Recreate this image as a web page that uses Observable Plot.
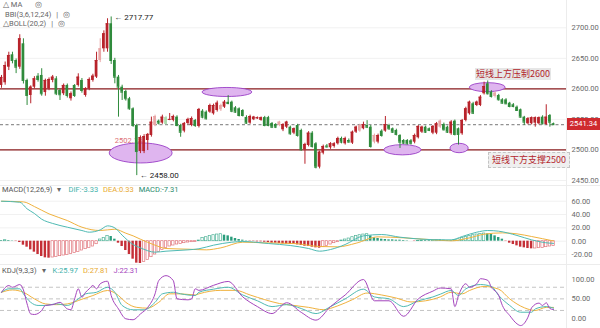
<!DOCTYPE html>
<html><head><meta charset="utf-8">
<script src="https://cdn.jsdelivr.net/npm/d3@7"></script>
<script src="https://cdn.jsdelivr.net/npm/@observablehq/plot@0.6"></script>
<style>
html,body{margin:0;padding:0;background:#fff;}
#wrap{position:relative;width:600px;height:328px;overflow:hidden;font-family:Roboto,"Noto Sans",sans-serif;}
.panel{position:absolute;left:0;}
.lg{position:absolute;font-size:7.5px;color:#666;white-space:nowrap;line-height:10px;}
.lg b{font-weight:normal;margin-right:5px;}
.note{position:absolute;font-family:"Noto Sans CJK SC",sans-serif;font-size:9px;line-height:12px;color:#b3262d;background:#e6e6e6;padding:0 1px;white-space:nowrap;}
.note2{border:1px dashed #c4c4c4;padding:1px 3px;background:#efefef;}
.tag{position:absolute;left:567px;width:33px;height:12px;line-height:12px;background:#cf2a2f;color:#fff;font-size:7.5px;text-align:center;}
.sep{position:absolute;left:0;width:600px;height:1px;background:#ececec;}
.vax{position:absolute;left:566px;top:0;width:1px;height:328px;background:#ececec;}
</style></head><body><div id="wrap"></div><script>
// ---------- candles (index 0..151) ----------
const openP = [2605.6,2610,2635.5,2655.8,2646.5,2635.5,2673.8,2613.8,2589.2,2602.8,
2620.8,2622,2594,2600,2613.8,2616.5,2597.4,2592,2605.6,2583.8,
2605.6,2605.6,2613.8,2589.2,2600,2613.8,2619.2,2646.5,2665.6,2665.6,
2706.6,2646.5,2619.2,2602.8,2595.7,2583.8,2567.4,2540.1,2497.4,2497.4,
2515.5,2523.7,2540,2547.2,2544,2553,2549,2548.3,2553.7,2540,
2530.8,2543.4,2540,2548.3,2538.5,2563.5,2561.9,2561.9,2559.2,2564.6,
2565.8,2570,2578,2578.2,2569,2567.4,2564.6,2553.2,2543.9,2549.4,
2551,2548.3,2553,2553,2543.4,2541.7,2540,2533,2537.3,2537.3,
2527.5,2540,2531.9,2500.3,2507.3,2527.5,2510.1,2471.8,2494.7,2506.5,
2503.6,2505.7,2510.1,2518.8,2510.1,2515.5,2511.1,2529.1,2530.8,2534.7,
2540,2537.3,2512.8,2512.8,2530.8,2530.8,2540,2534.7,2531.9,2523.7,
2515.5,2515.5,2515,2512.8,2520,2529.1,2537.3,2534.7,2527.5,2527.5,
2537.3,2541.7,2537.3,2526.5,2547.1,2534.7,2526.5,2548.3,2559.2,2575.6,
2572.8,2572.8,2592,2608.3,2594.6,2587.6,2589.2,2582.2,2582,2576.6,
2574,2570,2565.8,2553.7,2542.9,2542.9,2543.9,2542.9,2553.7,2541.7,
2556.4,2543];
const highP = [2622,2644,2660,2660,2649,2688.6,2682,2616,2605,2620,
2625,2633,2616,2618,2622,2620,2600,2608,2608,2595,
2607,2624.7,2617,2602,2618,2624,2660,2682,2695,2714.8,
2717.77,2650,2622,2606,2598,2586,2569,2542,2523,2525,
2527,2553.8,2557,2549,2557,2555,2559.7,2557,2556,2542,
2545,2552,2554,2550,2568,2566,2564,2575,2575,2580,
2575,2581,2589,2580,2571,2569,2566,2556,2557,2555,
2554,2554,2555,2555,2545,2543,2547,2543,2547,2539,
2536,2542,2534,2511,2530,2530,2512,2498,2508,2509,
2512,2512,2521,2521,2521,2518,2531,2539,2542,2545.5,
2548,2540,2526,2526,2533,2554.8,2542,2536,2534,2525,
2517,2517,2517,2526,2540,2539,2539,2536,2540,2545,
2549,2544,2539,2548,2549,2536,2550,2570,2580,2578,
2580,2589,2611,2613,2597,2595,2591,2584,2584,2578,
2576,2572,2567,2555,2553,2554,2554,2554,2556,2574,
2558,2544];
const lowP = [2601,2606,2630,2641,2625,2632,2608,2572.8,2575.6,2600,
2611,2588,2588,2597,2610,2589,2581,2589,2585,2580,
2586,2603,2593,2586.4,2597,2611,2617,2643,2660,2660,
2640,2608.3,2553.7,2581,2580,2565,2537,2458,2494,2494,
2499,2521,2538,2541,2542,2541,2548,2546,2538,2520.8,
2528,2541,2538,2537,2536,2551,2549,2560,2557,2562,
2563,2568,2574,2561,2560,2554,2554,2542,2542,2548,
2550,2547,2538,2538,2535,2535,2538,2530,2535,2524,
2525,2521,2498,2476.6,2505,2503,2469,2469,2492,2503,
2501,2503,2508,2510,2508,2511,2509,2527,2529,2533,
2535,2503,2510,2510,2521,2529,2532,2527,2523,2502.5,
2509,2508,2508,2510,2518,2527,2527,2530,2525,2525,
2535,2531,2527,2524,2523,2508,2524,2546,2557,2558,
2571,2571,2590,2590,2585,2585,2580,2575,2574,2569,
2569,2563,2552,2540.1,2541,2541,2537.3,2541,2541,2540,
2537.3,2540];
const closeP = [2618.7,2638.3,2654.7,2646.5,2635.5,2682,2613.8,2589.2,2602.8,2616.5,
2615.4,2592,2613.8,2615.4,2619.2,2592,2590.4,2605.6,2589.2,2592,
2589.2,2619.2,2597.4,2600,2615.4,2620.8,2646.5,2665.6,2690.2,2706.6,
2646.5,2619.2,2602.8,2594.6,2583.8,2567.4,2540.1,2497.4,2520.4,2522,
2525.4,2545.5,2554.8,2544,2553.7,2543.4,2550,2554.8,2540,2529,
2543.4,2550,2551.5,2540,2566.3,2553.7,2551,2572.8,2572.8,2576.6,
2572.8,2578.2,2576,2563.5,2561.9,2556.4,2556.4,2543.9,2554.8,2553.7,
2552.7,2552.7,2540,2540,2537.3,2537.3,2545.5,2541.7,2545.5,2526.5,
2534.7,2523.7,2500.3,2509,2527.5,2505.7,2471.8,2496.4,2505.7,2505,
2510.1,2510,2518.8,2512.8,2518.8,2513,2529.1,2537.3,2540,2541.7,
2537.3,2505.7,2523.7,2523.7,2523.7,2541.7,2534.7,2529.1,2525.4,2512.8,
2511.1,2510.1,2511,2523.7,2538.5,2537.3,2529.1,2532,2538.5,2542.9,
2547.1,2533,2529.1,2545.5,2525.4,2525.4,2548.3,2567.4,2578.2,2560.2,
2578.2,2586.4,2603.9,2592,2587.6,2593,2582.2,2576.6,2575.6,2571.2,
2571.2,2564.6,2553.7,2545.5,2551,2552.7,2552.7,2552.7,2542.9,2553.7,
2545.5,2541.34];
const fadedIdx = [27,42,45,60,76,98,102,120,135];

// ---------- MACD ----------
const macdHist = [1,1.5,1,0.5,-0.5,-2,-6,-9,-13,-16.5,
-20,-23,-25,-25.5,-24.5,-23.5,-22.5,-21.5,-20.5,-19,
-17.5,-16,-14,-12,-10,-8,-4.5,2.5,5,8,
7,3,-3,-8,-14,-20,-27,-33,-33.5,-31,
-28,-24,-20,-16,-13,-10,-8,-6.5,-5,-4,
-3,-2,-1.5,-1,1,5,6,8,9,10,
10.5,9,8,6,4,2.5,1.5,0.5,-0.5,-0.5,
-1,-1,-1.5,-2,-3,-3,-3.5,-4,-4.5,-5,
-5,-5.5,-6.5,-7.5,-8,-9,-10,-10.5,-9,-7,
-5,-3,-1.5,1,2.5,4,6,8,9,10,
10.5,8,5,4,3,2.5,2,2,1.5,1.5,
1,0.5,0,-0.5,0.5,1,1,1,1.5,2,
2,1.5,1,1,2,3,5,6.5,8,9,
10,11,11.5,11,10,8,5.5,3,-0.5,-3,
-5,-7,-9,-10,-11,-11.5,-11,-10.5,-10,-9,
-8,-7.31];
const difIdx = [0,5,7,9,11,14,18,22,24,27,29,31,33,36,38,42,45,51,54,58,63,66,73,79,84,87,90,94,99,104,109,115,121,123,126,130,133,136,141,145,150,151];
const difVal = [60,58.5,48.6,41.6,33,26.6,21,16,13.5,17,23,20,9,-5,-10,-16.5,-15,-13,-11.4,-6,-1.5,-0.5,-3.5,-6.5,-11,-15,-12.5,-5,8,10,6,3,2,2,7,13.5,16,15,8.6,2,-3,-3.33];
const deaIdx = [0,6,9,13,18,22,27,31,34,36,38,42,45,51,56,60,66,72,80,87,92,97,103,110,117,123,128,132,137,141,145,151];
const deaVal = [60,59,52,41,31,21,16,18,12,8,3,-6,-11,-12,-13,-10,-1.5,-2.5,-3.5,-8,-8.5,-3,6.5,5,2.5,0.5,5,10.5,12.5,11,7,0.33];

// ---------- KDJ ----------
const kIdx = [0,2,5,6,8,10,12,15,18,21,23,26,29,31,33,36,39,42,44,47,49,53,54,58,62,66,70,74,78,82,86,90,94,99,102,106,110,114,118,120,123,125,127,131,134,136,139,142,145,146,149,151];
const kVal = [67,76,76,63,41,33,33,37,33,50,63,67,80,67,33,21.7,21.7,41,63,67,63,58.6,67,75,80,60,45,30,35,25,12,30,50,75,55,50,30,45,55,62,71.6,58.6,76,87,82,58.6,33,15.5,15.5,24,30,25.97];
const dIdx = [0,3,6,9,12,15,18,22,25,29,32,34,37,40,43,46,49,53,54,60,64,68,72,76,80,84,88,92,96,100,104,108,112,116,120,123,126,128,132,136,139,143,146,149,151];
const dVal = [67,73,67,50,37,35,37,49,58.6,71.6,58.6,41,28,26,41,63,63,60,63,72,72,60,48,38,33,28,22,32,48,65,60,52,42,45,55,67,63,71.6,82,75,50,27,20,28,27.81];
const jIdx = [0,2,3,5,6,7,8,9,11,12,14,16,18,19,20,21,22,23,24,25,26,27,29,30,32,34,36,38,40,42,43,45,47,48,51,52,53,54,58,62,66,70,74,78,82,86,90,94,99,102,106,110,114,118,120,123,124,125,127,128,130,131,133,134,136,137,139,141,142,144,145,147,148,149,150,151];
const jVal = [67,84.5,80,87,73,37,11,9.6,20,33,35,41,24,22,50,76,54,67,76,84.5,76,89,95.6,58.6,24,-1.5,-4,11,28,63,97,110,97,50,47.5,50,76,72,85,95,55,30,12,40,15,-5,30,60,100,45,45,5,50,70,78,76,30,58.6,89,80,89,102,98,80,58.6,33,7,-14.5,-19,2.6,27,39,33,40,25,22.31];

// ---------- axes / annotations ----------
const mainTicks = [2450,2500,2550,2600,2650,2700];
const macdTicks = [60,40,20,0,-20];
const kdjTicks = [100,50,0];
const kdjLevels = [80,50,20];
const levelLines = [2600,2500];
const supportLabel = {i: 31, p: 2502.18};
const ellIdx = [38.2,61.8,109.8,125.3,133.0];
const ellPrice = [2494.3,2594.1,2499.5,2502.4,2602.0];
const ellHalfW = [8.6,6.8,5.1,2.5,4.9];
const ellHalfH = [16.4,7.4,8.4,7.7,7.4];
const noteText = ["短线上方压制2600","短线下方支撑2500"];
const noteIdx = [129.65,133.2];
const notePrice = [2623.6,2482.8];

// ---------- build ----------
const candles = openP.map((o,i)=>({i,o,h:highP[i],l:lowP[i],c:closeP[i]}));
const lastClose = closeP[closeP.length-1];
const hiIdx = d3.maxIndex(highP), loIdx = d3.minIndex(lowP);
const X_DOMAIN = [-0.2735, 154.54];
const RED="#b8232b", GREEN="#2f8b3c", RED_F="#e9a6a6", GREEN_F="#a9d9a9";
const col = d => { const f = fadedIdx.includes(d.i); return d.c >= d.o ? (f?RED_F:RED) : (f?GREEN_F:GREEN); };

const wrap = document.getElementById("wrap");
function place(node, top){ node.classList.add("panel"); node.style.position="absolute"; node.style.top = top+"px"; wrap.appendChild(node); return node; }

function ellipseMark(index, scales) {
  const g = d3.create("svg:g");
  ellIdx.forEach((ix,k)=>{
    const cx = scales.x(ix), cy = scales.y(ellPrice[k]);
    const rx = Math.abs(scales.x(ix+ellHalfW[k]) - cx);
    const ry = Math.abs(scales.y(ellPrice[k]+ellHalfH[k]) - cy);
    g.append("ellipse").attr("cx",cx).attr("cy",cy).attr("rx",rx).attr("ry",ry)
     .attr("fill","#dfb5ef").attr("stroke","#9b3fc7").attr("stroke-width",0.9);
  });
  return g.node();
}

const axisStyle = {anchor:"right", tickSize:0, tickPadding:5, fontSize:7.5, color:"#6a6a6a", label:null};

const main = Plot.plot({
  width:600, height:188, marginLeft:0, marginRight:34, marginTop:0, marginBottom:0,
  x:{domain:X_DOMAIN, axis:null},
  y:{domain:[2436.9,2744.7], axis:null},
  color:{type:"identity"},
  style:{background:"transparent", fontFamily:"Roboto, sans-serif", overflow:"visible"},
  marks:[
    Plot.gridY(mainTicks,{stroke:"#f1f1f1", strokeOpacity:1}),
    Plot.axisY(mainTicks,{...axisStyle, tickFormat:d=>d.toFixed(2)}),
    Plot.ruleY(levelLines,{stroke:"#8b1c1f", strokeWidth:1.3}),
    Plot.ruleY([lastClose],{stroke:"#666", strokeDasharray:"3,2.5", strokeWidth:0.9}),
    ellipseMark,
    Plot.text([supportLabel],{x:"i", y:"p", text:d=>d.p.toFixed(2), dy:-8, textAnchor:"start", fill:"#dc6f74", fontSize:7.5}),
    Plot.ruleX(candles,{x:"i", y1:"l", y2:"h", stroke:col, strokeWidth:1}),
    Plot.rect(candles,{x1:d=>d.i-0.37, x2:d=>d.i+0.37, y1:d=>Math.min(d.o,d.c), y2:d=>Math.max(d.o,d.c), fill:col}),
    Plot.ruleY(candles,{x1:d=>d.i-0.37, x2:d=>d.i+0.37, y:"c", stroke:col, strokeWidth:1}),
    Plot.text([{i:hiIdx,p:highP[hiIdx]}],{x:"i", y:"p", text:d=>"← "+d.p.toFixed(2), dx:3, textAnchor:"start", fill:"#222", fontSize:8}),
    Plot.text([{i:loIdx,p:lowP[loIdx]}],{x:"i", y:"p", text:d=>"← "+d.p.toFixed(2), dx:3, textAnchor:"start", fill:"#222", fontSize:8})
  ]
});
place(main,0);

const histData = macdHist.map((v,i)=>({i,v,hollow: i>0 && v>macdHist[i-1]}));
const hcol = d => d.v>=0 ? "#2a9d7c" : "#c52f37";
const macd = Plot.plot({
  width:600, height:78, marginLeft:0, marginRight:34, marginTop:0, marginBottom:0,
  x:{domain:X_DOMAIN, axis:null},
  y:{domain:[-35.0,82.1], axis:null},
  color:{type:"identity"},
  style:{background:"transparent", fontFamily:"Roboto, sans-serif", overflow:"visible"},
  marks:[
    Plot.gridY(macdTicks,{stroke:"#f1f1f1", strokeOpacity:1}),
    Plot.axisY(macdTicks,{...axisStyle, tickFormat:d=>d.toFixed(2)}),
    Plot.rect(histData,{x1:d=>d.i-0.33, x2:d=>d.i+0.33, y1:0, y2:"v",
      fill:d=>d.hollow?"#ffffff":hcol(d), stroke:d=>d.hollow?(d.v>=0?"#4fb398":"#e0737a"):"none", strokeWidth:0.7}),
    Plot.line(deaIdx.map((i,k)=>({i,v:deaVal[k]})),{x:"i", y:"v", stroke:"#f0b23e", strokeWidth:1, curve:"monotone-x"}),
    Plot.line(difIdx.map((i,k)=>({i,v:difVal[k]})),{x:"i", y:"v", stroke:"#4fbab3", strokeWidth:1, curve:"monotone-x"})
  ]
});
place(macd,186);

const kdj = Plot.plot({
  width:600, height:64, marginLeft:0, marginRight:34, marginTop:0, marginBottom:0,
  x:{domain:X_DOMAIN, axis:null},
  y:{domain:[-26.6,138.8], axis:null},
  style:{background:"transparent", fontFamily:"Roboto, sans-serif", overflow:"visible"},
  marks:[
    Plot.ruleY(kdjLevels,{stroke:"#bdbdbd", strokeDasharray:"4,3", strokeWidth:0.9}),
    Plot.axisY(kdjTicks,{...axisStyle, tickFormat:d=>d.toFixed(2)}),
    Plot.line(dIdx.map((i,k)=>({i,v:dVal[k]})),{x:"i", y:"v", stroke:"#f0b23e", strokeWidth:1, curve:"monotone-x"}),
    Plot.line(kIdx.map((i,k)=>({i,v:kVal[k]})),{x:"i", y:"v", stroke:"#4fbab3", strokeWidth:1, curve:"monotone-x"}),
    Plot.line(jIdx.map((i,k)=>({i,v:jVal[k]})),{x:"i", y:"v", stroke:"#a445bd", strokeWidth:1, curve:"monotone-x"})
  ]
});
place(kdj,264);

// overlays (positions through the plots' scales)
const sx = main.scale("x"), sy = main.scale("y");
function addDiv(html, cls, style){ const d=document.createElement("div"); d.className=cls; d.innerHTML=html; Object.assign(d.style,style); wrap.appendChild(d); return d; }
addDiv("","sep",{top:"185px"});
addDiv("","sep",{top:"264px"});
addDiv("","vax",{});
addDiv(lastClose.toFixed(2),"tag",{top:(sy.apply(lastClose)-6)+"px"});
noteText.forEach((t,k)=>{
  const d = addDiv(t, k===0?"note":"note note2", {left:sx.apply(noteIdx[k])+"px"});
  const h = d.getBoundingClientRect().height;
  d.style.top = (sy.apply(notePrice[k]) - h/2)+"px";
});
addDiv('<b>△ MA</b><b style="margin-left:8px">◎</b>',"lg",{left:"3px",top:"0px"});
addDiv('<b>BBI(3,6,12,24)</b><b>|</b><b>◎</b>',"lg",{left:"5px",top:"10px"});
addDiv('<b>△BOLL(20,2)</b><b>|</b><b>◎</b>',"lg",{left:"3px",top:"19px"});
const f2 = v=>v.toFixed(2);
addDiv(`<b style="color:#555">MACD(12,26,9)</b><b style="margin-right:7px">▾</b><b style="color:#3fb1aa">DIF:${f2(difVal[difVal.length-1])}</b><b style="color:#e8a92f">DEA:${f2(deaVal[deaVal.length-1])}</b><b style="color:#1f8a6c">MACD:${f2(macdHist[macdHist.length-1])}</b>`,"lg",{left:"2px",top:"185px"});
addDiv(`<b style="color:#555">KDJ(9,3,3)</b><b style="margin-right:7px">▾</b><b style="color:#3fb1aa">K:${f2(kVal[kVal.length-1])}</b><b style="color:#e8a92f">D:${f2(dVal[dVal.length-1])}</b><b style="color:#a445bd">J:${f2(jVal[jVal.length-1])}</b>`,"lg",{left:"2px",top:"266px"});
</script></body></html>
